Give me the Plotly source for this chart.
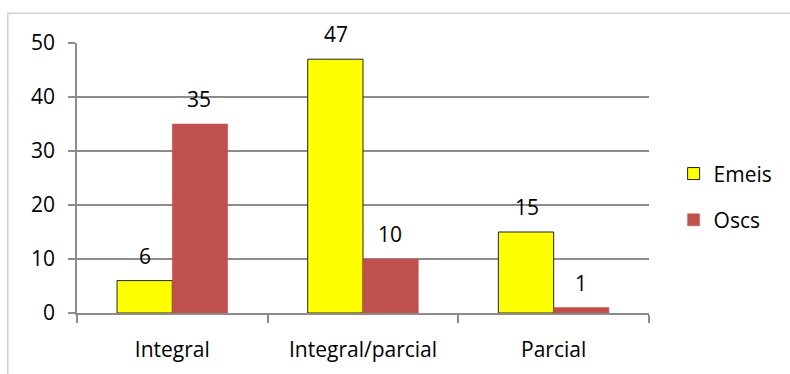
import plotly.graph_objects as go

categories = ["Integral", "Integral/parcial", "Parcial"]
emeis = [6, 47, 15]
oscs = [35, 10, 1]
y_ticks = [0, 10, 20, 30, 40, 50]

FONT = "Open Sans"
GRID = "#8c8c8c"
FS = 21

fig = go.Figure()
fig.add_trace(go.Bar(
    name="Emeis", x=categories, y=emeis,
    marker=dict(color="#FFFF00", line=dict(color="#222222", width=1)),
    legendgroup="a",
))
fig.add_trace(go.Bar(
    name="Oscs", x=categories, y=oscs,
    marker=dict(color="#C0504D", line=dict(color="#C0504D", width=0.5)),
    legendgroup="b",
))

# value labels above each bar
for vals, shift in ((emeis, -27), (oscs, 27)):
    for c, v in zip(categories, vals):
        fig.add_annotation(
            x=c, y=v, text=str(v), showarrow=False,
            xshift=shift, yshift=9, yanchor="bottom",
            font=dict(family=FONT, size=FS, color="#000"),
        )

# chart area border
fig.add_shape(type="rect", xref="paper", yref="paper",
              x0=-0.121, x1=1.3, y0=-0.3, y1=1.11,
              line=dict(color="#d0d0d0", width=1.5), layer="below")

fig.update_layout(
    width=790, height=374,
    margin=dict(l=77, r=141, t=43, b=61, autoexpand=False),
    paper_bgcolor="white", plot_bgcolor="white",
    barmode="group", bargap=0.42, bargroupgap=0,
    font=dict(family=FONT, size=FS, color="#000"),
    showlegend=True,
    legend=dict(x=1.043, y=0.43, yanchor="middle", xanchor="left",
                tracegroupgap=16, font=dict(family=FONT, size=FS),
                bgcolor="rgba(0,0,0,0)"),
)
fig.update_xaxes(
    showline=True, linecolor=GRID, linewidth=1.5,
    ticks="outside", tickson="boundaries", ticklen=8, tickcolor=GRID,
    tickwidth=1.5, tickfont=dict(family=FONT, size=FS), ticklabelstandoff=17,
    showgrid=False, automargin=False,
)
fig.update_yaxes(
    range=[0, 50], tickvals=y_ticks,
    showline=True, linecolor=GRID, linewidth=1.5,
    ticks="outside", ticklen=7, tickcolor=GRID, tickwidth=1.5,
    showgrid=True, gridcolor=GRID, gridwidth=1.5, ticklabelstandoff=9,
    zeroline=False, tickfont=dict(family=FONT, size=FS), automargin=False,
)

fig.write_html("out.html")
